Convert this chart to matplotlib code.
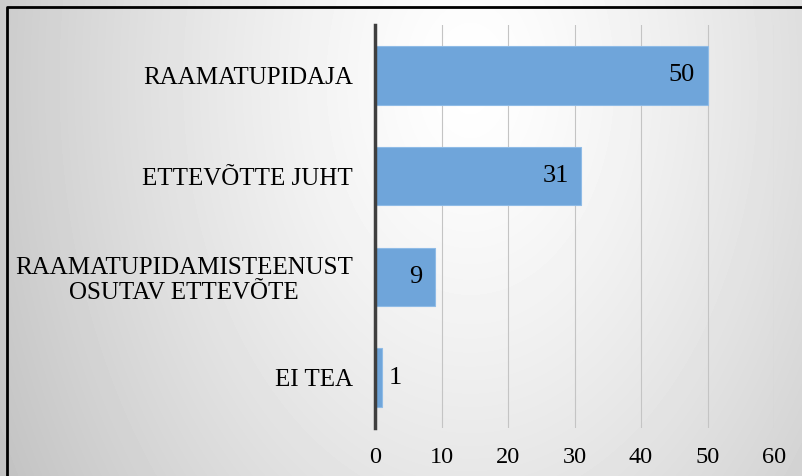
import numpy as np
import matplotlib
matplotlib.use("Agg")
import matplotlib.pyplot as plt
from matplotlib.lines import Line2D

categories = ["RAAMATUPIDAJA", "ETTEVÕTTE JUHT",
              "RAAMATUPIDAMISTEENUST\nOSUTAV ETTEVÕTE", "EI TEA"]
values = [50, 31, 9, 1]
xticks = [0, 10, 20, 30, 40, 50, 60]

plt.rcParams["font.family"] = ["Liberation Serif", "DejaVu Serif"]

W, H = 802, 476
fig = plt.figure(figsize=(W / 100, H / 100), dpi=100)

# soft gray background, lightest near the top middle, darker to the left
bg = fig.add_axes([0, 0, 1, 1], zorder=-2)
yy, xx = np.mgrid[0:H, 0:W]
d = np.hypot((xx - 470) / 470, (yy - 80) / 700)
grad = 1 - 0.2 * np.clip(d, 0, 1.2) ** 1.3
bg.imshow(grad, cmap="gray", vmin=0, vmax=1, aspect="auto", extent=[0, 1, 0, 1])
bg.axis("off")

# frame on top and left
fig.add_artist(Line2D([6.5 / W, 6.5 / W, 1], [0, 1 - 6.5 / H, 1 - 6.5 / H],
                      transform=fig.transFigure, color="black", linewidth=2))

ax = fig.add_axes([375 / W, 1 - 428 / H, (774 - 375) / W, (428 - 25) / H])
ax.set_facecolor("none")

pos = np.arange(len(categories))
ax.barh(pos, values, height=0.58, color="#6fa5da", edgecolor="#8fbbe6",
        linewidth=0.8, zorder=3)

for i, v in enumerate(values):
    if v > 3:
        ax.annotate(str(v), (v, i), xytext=(-9, 0), textcoords="offset points",
                    ha="right", va="center", fontsize=19, color="black", zorder=4)
    else:
        ax.annotate(str(v), (v, i), xytext=(5, 0), textcoords="offset points",
                    ha="left", va="center", fontsize=19, color="black", zorder=4)

ax.set_xlim(0, 60)
ax.set_ylim(3.5, -0.5)
ax.set_xticks(xticks)
ax.set_yticks(pos)
ax.set_yticklabels(categories, fontsize=18, multialignment="center", linespacing=1.15)
ax.tick_params(axis="x", length=0, pad=14, labelsize=17.5)
ax.tick_params(axis="y", length=0, pad=16)

ax.xaxis.grid(True, color="#c4c4c4", linewidth=0.8, zorder=0)
ax.set_axisbelow(True)
for side in ["top", "right", "bottom"]:
    ax.spines[side].set_visible(False)
ax.spines["left"].set_color("#3f3f3f")
ax.spines["left"].set_linewidth(2.5)
ax.spines["left"].set_zorder(5)

fig.savefig("out.png", dpi=100)
